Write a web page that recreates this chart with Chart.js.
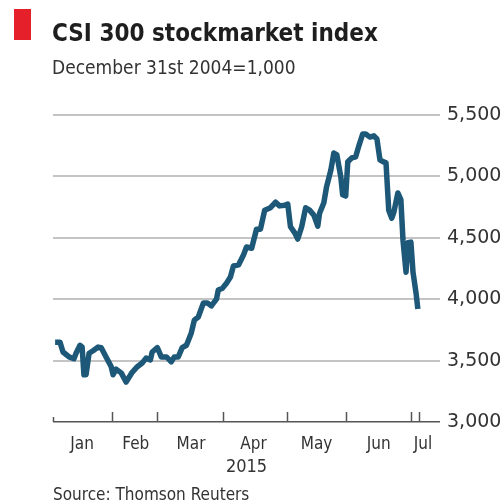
<!DOCTYPE html>
<html>
<head>
<meta charset="utf-8">
<script src="https://cdn.jsdelivr.net/npm/chart.js@4/dist/chart.umd.min.js"></script>
<style>
  html, body { margin: 0; padding: 0; background: #fff; }
  #wrap { position: relative; width: 504px; height: 504px; overflow: hidden; }
  #wrap canvas { position: absolute; left: 0; top: 0; }
  .mark { position: absolute; left: 14px; top: 9px; width: 17px; height: 31px; background: #e5202a; }
  .txt { position: absolute; white-space: nowrap; font-family: 'DejaVu Sans Condensed', 'DejaVu Sans', sans-serif; }
  .title { left: 52px; top: 21px; font-size: 24px; line-height: 24px; font-weight: bold; color: #1e1e1e; }
  .sub { left: 52px; top: 58px; font-size: 19px; line-height: 19px; color: #333; }
  .source { left: 53px; top: 486px; font-size: 17px; line-height: 17px; color: #333; }
</style>
</head>
<body>
<div id="wrap">
  <canvas id="chart"></canvas>
  <div class="mark"></div>
  <div class="txt title">CSI 300 stockmarket index</div>
  <div class="txt sub">December 31st 2004=1,000</div>
  <div class="txt source">Source: Thomson Reuters</div>
</div>
<script>
// Handelstage seit 1. Januar 2015 (0 = Jahresbeginn) und Schlussstand.
const tradingDay = [
  0.7, 2.3, 3.3, 5.3, 6.9, 7.6, 8.9, 9.6, 10.2, 10.9,
  11.9, 13.2, 14.9, 15.9, 17.5, 19.2, 19.8, 20.8, 22.5, 24.1,
  26.1, 27.8, 29.4, 30.7, 32.1, 32.7, 34.4, 35.7, 37.4, 39.0,
  40.0, 41.3, 42.6, 44.0, 45.6, 46.6, 47.9, 49.6, 50.9, 52.2,
  53.9, 54.5, 55.9, 57.2, 58.5, 59.5, 61.2, 62.8, 63.8, 65.5,
  67.1, 68.4, 69.8, 71.7, 73.4, 74.7, 76.4, 77.4, 78.3, 79.7,
  80.7, 82.0, 83.3, 84.6, 86.0, 87.3, 87.9, 89.3, 90.2, 91.6,
  92.6, 93.6, 94.9, 95.5, 96.5, 97.2, 98.5, 99.8, 100.8, 102.1,
  103.1, 104.5, 105.8, 106.8, 107.8, 108.8, 109.8, 110.7, 111.7, 112.4,
  113.7, 114.7, 115.4, 116.4, 117.0, 118.0, 118.7, 119.7, 120.3
];
const indexLevel = [
  3650, 3650, 3570, 3530, 3515, 3560, 3625, 3610, 3385, 3385,
  3560, 3580, 3610, 3605, 3530, 3450, 3385, 3430, 3400, 3325,
  3405, 3450, 3480, 3520, 3505, 3570, 3605, 3530, 3530, 3490,
  3530, 3530, 3605, 3625, 3725, 3830, 3855, 3970, 3970, 3945,
  4000, 4075, 4090, 4130, 4180, 4270, 4280, 4360, 4425, 4415,
  4570, 4570, 4725, 4745, 4790, 4760, 4765, 4775, 4590, 4540,
  4490, 4590, 4745, 4725, 4685, 4595, 4700, 4785, 4915, 5050,
  5190, 5175, 4995, 4850, 4840, 5120, 5150, 5160, 5245, 5345,
  5345, 5320, 5330, 5305, 5135, 5120, 5110, 4725, 4660, 4710,
  4865, 4810, 4480, 4220, 4460, 4465, 4220, 4050, 3920
];

// Monatsgrenzen (Teilstriche) und Monatsmitten (Beschriftung).
const monthStarts = [0, 19.5, 34.4, 56.2, 77, 96.5, 118, 120.6];
const monthMids = [9.6, 27.3, 45.5, 66.1, 86.9, 107.4, 122];
const monthLabels = ['Jan', 'Feb', 'Mar', 'Apr', 'May', 'Jun', 'Jul'];
const yTicks = [3000, 3500, 4000, 4500, 5000, 5500];

const LINE_COLOR = '#1d5878';
const GRID = '#c4c4c4';
const AXIS = '#555555';
const INK = '#333333';
const FONT = "'DejaVu Sans Condensed', 'DejaVu Sans', sans-serif";

// Kurze Teilstriche an den Monatsgrenzen, nach oben in die Fläche.
const monthTicks = {
  id: 'monthTicks',
  afterDatasetsDraw(chart) {
    const x = chart.scales.x;
    const bottom = chart.chartArea.bottom;
    const ctx = chart.ctx;
    ctx.save();
    ctx.strokeStyle = AXIS;
    ctx.lineWidth = 1.5;
    monthStarts.forEach((d, i) => {
      const px = Math.round(x.getPixelForValue(d)) + 0.5;
      ctx.beginPath();
      ctx.moveTo(px, bottom);
      ctx.lineTo(px, bottom - (i === 0 ? 5 : 10));
      ctx.stroke();
    });
    ctx.restore();
  }
};

new Chart(document.getElementById('chart'), {
  type: 'line',
  data: {
    datasets: [{
      data: tradingDay.map((d, i) => ({ x: d, y: indexLevel[i] })),
      borderColor: LINE_COLOR,
      borderWidth: 5.5,
      pointRadius: 0,
      tension: 0,
      borderJoinStyle: 'round',
      clip: false
    }]
  },
  options: {
    responsive: true,
    maintainAspectRatio: false,
    animation: false,
    layout: { padding: { left: 53, top: 115, right: 0, bottom: 0 } },
    plugins: { legend: { display: false }, tooltip: { enabled: false } },
    scales: {
      x: {
        type: 'linear',
        min: 0,
        max: 127.6,
        afterBuildTicks: (scale) => { scale.ticks = monthMids.map((v) => ({ value: v })); },
        afterFit: (scale) => { scale.height = 82; },
        grid: { display: false },
        border: { display: false },
        ticks: {
          autoSkip: false,
          maxRotation: 0,
          padding: 4,
          color: INK,
          font: { family: FONT, size: 17 },
          callback: (value, index) => monthLabels[index]
        },
        title: {
          display: true,
          text: '2015',
          color: INK,
          font: { family: FONT, size: 18 },
          padding: { top: 0, bottom: 26 }
        }
      },
      y: {
        position: 'right',
        min: 3000,
        max: 5500,
        afterBuildTicks: (scale) => { scale.ticks = yTicks.map((v) => ({ value: v })); },
        afterFit: (scale) => { scale.width = 64; },
        border: { display: false },
        grid: {
          drawTicks: false,
          color: (ctx) => (ctx.tick && ctx.tick.value === 3000 ? AXIS : GRID),
          lineWidth: (ctx) => (ctx.tick && ctx.tick.value === 3000 ? 1.5 : 2)
        },
        ticks: {
          padding: 7,
          color: INK,
          font: { family: "'DejaVu Sans', sans-serif", size: 19 },
          callback: (value) => value.toLocaleString('en-US')
        }
      }
    }
  },
  plugins: [monthTicks]
});
</script>
</body>
</html>
